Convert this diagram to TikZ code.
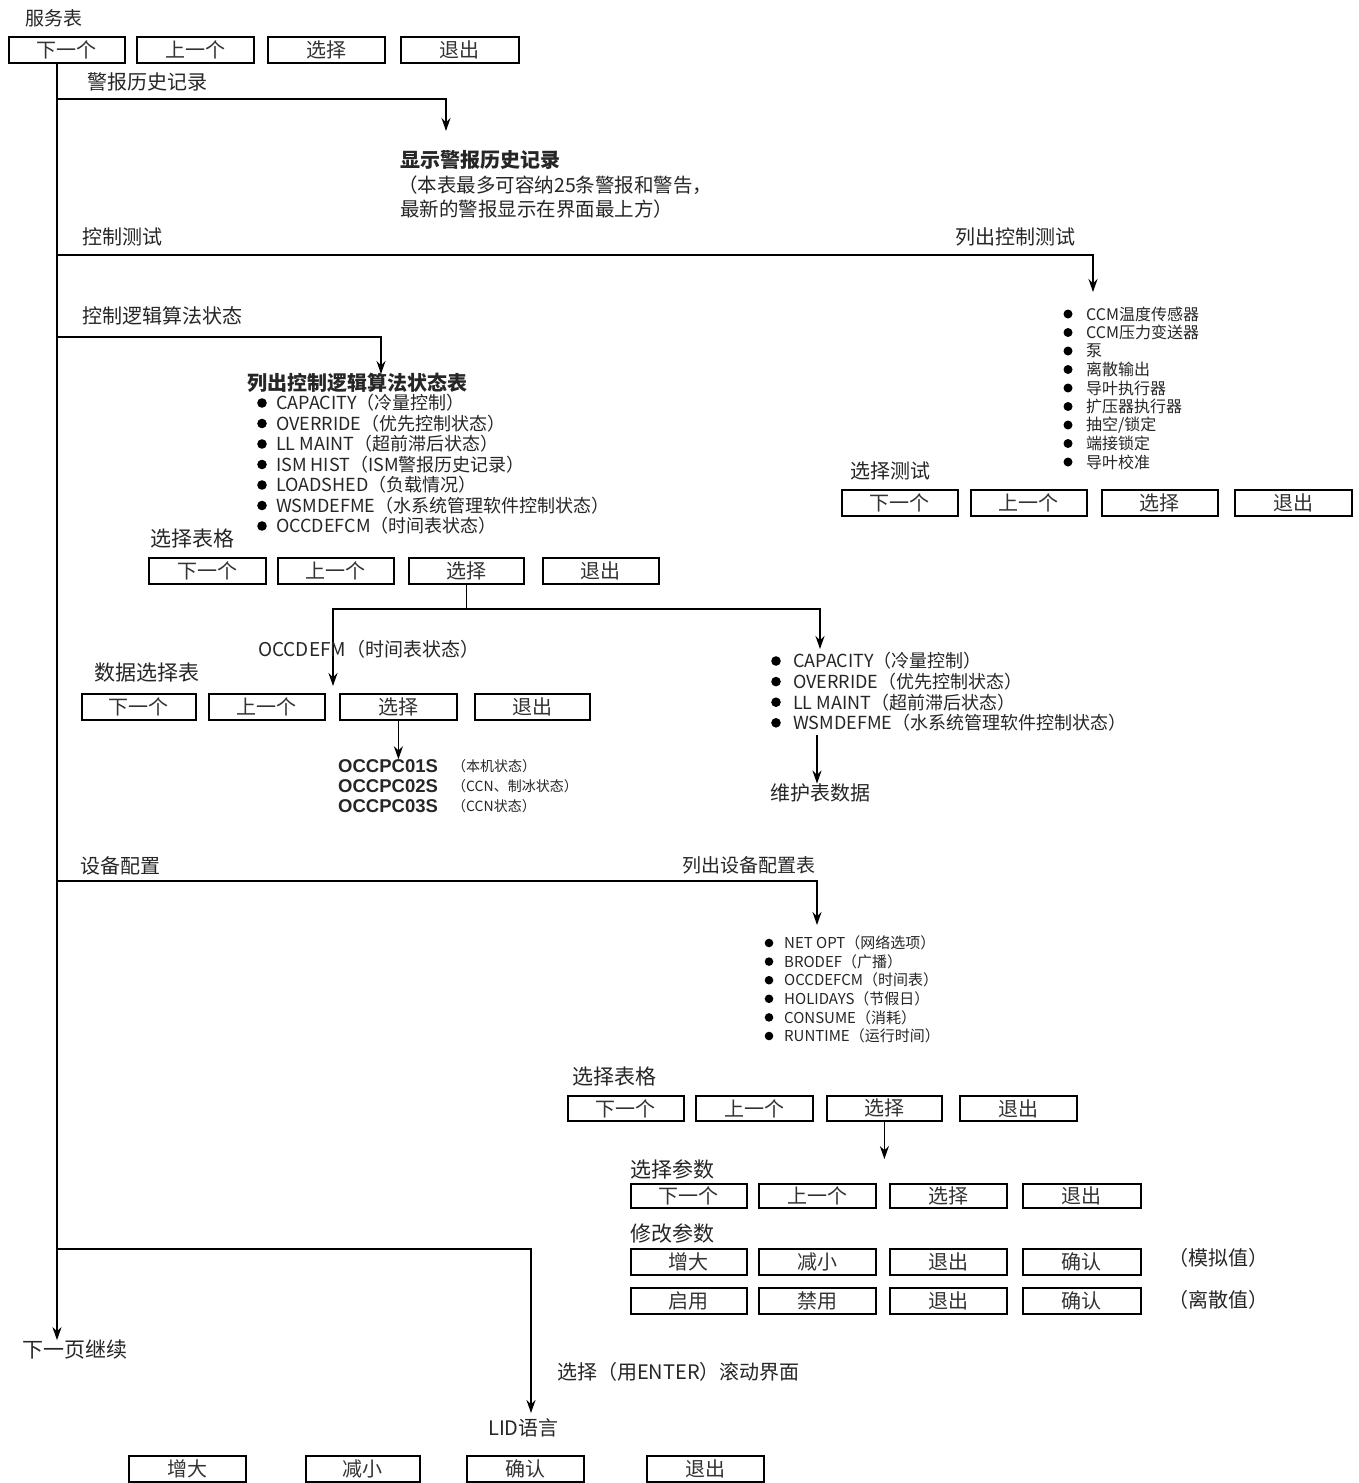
\documentclass[tikz,border=0pt]{standalone}
\usepackage{fontspec}
\setmainfont{Noto Sans CJK SC}
\newfontfamily\arialfont{Liberation Sans}
\usetikzlibrary{arrows.meta}
\newcommand\fs[1]{\fontsize{#1}{#1}\selectfont}
\newcommand\mybtn[6]{\node[btn,minimum width={(#3-#2)*1pt},minimum height=#5pt,anchor=north west] (#1) at (#2,#4) {#6};}
\begin{document}
\begin{tikzpicture}[x=1pt,y=-1pt,
  btn/.style={draw=black, line width=1.8pt, inner sep=0pt, text=black!80, font=\fs{20}},
  lbl/.style={anchor=west, inner sep=0pt, text=black!85, font=\fs{20}},
  ln/.style={line width=1.8pt},
  arr/.style={line width=1.8pt, -{Stealth[length=13pt,width=9pt]}}
]
\fill[white] (0,0) rectangle (1358,1483);
\useasboundingbox (0,0) rectangle (1358,1483);

% ---- top menu
\node[lbl,font=\fs{19}] (svc) at (25,18) {服务表};
\mybtn{a1}{8}{124}{36}{26}{下一个}
\mybtn{a2}{136}{253}{36}{26}{上一个}
\mybtn{a3}{267}{384}{36}{26}{选择}
\mybtn{a4}{400}{518}{36}{26}{退出}

% ---- trunk
\node[lbl,font=\fs{21}] (cont) at (22,1350) {下一页继续};
\coordinate (m0) at (57,62);
\coordinate (m1) at (57,99);
\coordinate (m2) at (57,255);
\coordinate (m3) at (57,337);
\coordinate (m4) at (57,881);
\coordinate (m5) at (57,1249);
\draw[arr] (m0) -- (m0 |- cont.north);

% ---- branch 1: alarm history
\node[lbl] (L1) at (87,82) {警报历史记录};
\coordinate (t1) at (446,131);
\draw[arr] (m1) -| (t1);
\node[lbl,font=\bfseries\fs{20}] (alarmT) at (400,160) {显示警报历史记录};
\node[lbl,font=\fs{19.5}] (alarm1) at (398,185) {（本表最多可容纳25条警报和警告，};
\node[lbl,font=\fs{19.5}] (alarm2) at (400,209) {最新的警报显示在界面最上方）};

% ---- branch 2: control test
\node[lbl] (L2) at (82,237) {控制测试};
\node[lbl] (L2r) at (955,237) {列出控制测试};
\coordinate (t2) at (1093,292);
\draw[arr] (m2) -| (t2);
\foreach \txt [count=\i] in {CCM温度传感器,CCM压力变送器,泵,离散输出,导叶执行器,扩压器执行器,抽空/锁定,端接锁定,导叶校准}{
  \fill (1068,{314+18.5*(\i-1)}) circle (4.5);
  \node[lbl,font=\fs{16}] (ct\i) at (1086,{314+18.5*(\i-1)}) {\txt};
}
\node[lbl] (L2s) at (850,471) {选择测试};
\mybtn{b1}{841}{957}{489}{26}{下一个}
\mybtn{b2}{970}{1086}{489}{26}{上一个}
\mybtn{b3}{1101}{1217}{489}{26}{选择}
\mybtn{b4}{1234}{1351}{489}{26}{退出}

% ---- branch 3: control algorithm status
\node[lbl] (L3) at (82,316) {控制逻辑算法状态};
\coordinate (t3) at (381,374);
\draw[arr] (m3) -| (t3);
\node[lbl,font=\bfseries\fs{20}] (L3T) at (247,383) {列出控制逻辑算法状态表};
\foreach \txt [count=\i] in {CAPACITY（冷量控制）,OVERRIDE（优先控制状态）,LL MAINT（超前滞后状态）,ISM HIST（ISM警报历史记录）,LOADSHED（负载情况）,WSMDEFME（水系统管理软件控制状态）,OCCDEFCM（时间表状态）}{
  \fill (262,{403+20.5*(\i-1)}) circle (4.8);
  \node[lbl,font=\fs{18}] (ca\i) at (276,{403+20.5*(\i-1)}) {\txt};
}
\node[lbl,font=\fs{21}] (L3s) at (150,539) {选择表格};
\mybtn{c1}{148}{265}{557}{26}{下一个}
\mybtn{c2}{277}{393}{557}{26}{上一个}
\mybtn{c3}{408}{523}{557}{26}{选择}
\mybtn{c4}{542}{658}{557}{26}{退出}
\path (c3.south) ++(0,24) coordinate (j3);
\coordinate (t3a) at (333,686);
\coordinate (t3b) at (820,649);
\draw[ln] (c3.south) -- (j3);
\draw[arr] (j3) -| (t3a);
\draw[arr] (j3) -| (t3b);

\node[lbl,font=\fs{19}] (occm) at (258,649) {OCCDEFM（时间表状态）};
\node[lbl,font=\fs{21}] (L4s) at (94,673) {数据选择表};
\mybtn{d1}{81}{195}{693}{26}{下一个}
\mybtn{d2}{208}{324}{693}{26}{上一个}
\mybtn{d3}{339}{456}{693}{26}{选择}
\mybtn{d4}{474}{589}{693}{26}{退出}
\node[lbl,font=\arialfont\bfseries\fs{18.5}] (o1) at (338,766) {OCCPC01S};
\node[lbl,font=\arialfont\bfseries\fs{18.5}] (o2) at (338,786) {OCCPC02S};
\node[lbl,font=\arialfont\bfseries\fs{18.5}] (o3) at (338,806) {OCCPC03S};
\node[lbl,font=\fs{14}] (o1s) at (452,766) {（本机状态）};
\node[lbl,font=\fs{14}] (o2s) at (452,786) {（CCN、制冰状态）};
\node[lbl,font=\fs{14}] (o3s) at (452,806) {（CCN状态）};
\draw[arr] (d3.south) -- (d3.south |- o1.north);

\foreach \txt [count=\i] in {CAPACITY（冷量控制）,OVERRIDE（优先控制状态）,LL MAINT（超前滞后状态）,WSMDEFME（水系统管理软件控制状态）}{
  \fill (776,{661+20.6*(\i-1)}) circle (4.8);
  \node[lbl,font=\fs{18}] (cb\i) at (793,{661+20.6*(\i-1)}) {\txt};
}
\node[lbl] (maint) at (770,793) {维护表数据};
\coordinate (s5) at (817,735);
\draw[arr] (s5) -- (s5 |- maint.north);

% ---- branch 4: equipment configuration
\node[lbl] (L5) at (80,866) {设备配置};
\node[lbl,font=\fs{19}] (L5r) at (682,865) {列出设备配置表};
\coordinate (t6) at (817,925);
\draw[arr] (m4) -| (t6);
\foreach \txt [count=\i] in {NET OPT（网络选项）,BRODEF（广播）,OCCDEFCM（时间表）,HOLIDAYS（节假日）,CONSUME（消耗）,RUNTIME（运行时间）}{
  \fill (769,{943+18.6*(\i-1)}) circle (4.3);
  \node[lbl,font=\fs{15}] (dv\i) at (784,{943+18.6*(\i-1)}) {\txt};
}
\node[lbl,font=\fs{21}] (L6s) at (572,1077) {选择表格};
\mybtn{e1}{567}{683}{1095}{25}{下一个}
\mybtn{e2}{695}{812}{1095}{25}{上一个}
\mybtn{e3}{826}{941}{1095}{25}{选择}
\mybtn{e4}{959}{1076}{1095}{25}{退出}
\node[lbl,font=\fs{21}] (L7) at (630,1169) {选择参数};
\draw[arr] (e3.south) -- (e3.south |- L7.north);
\mybtn{f1}{630}{746}{1183}{24}{下一个}
\mybtn{f2}{758}{875}{1183}{24}{上一个}
\mybtn{f3}{889}{1006}{1183}{24}{选择}
\mybtn{f4}{1022}{1140}{1183}{24}{退出}
\node[lbl,font=\fs{21}] (L8) at (630,1233) {修改参数};
\mybtn{g1}{630}{746}{1248}{26}{增大}
\mybtn{g2}{758}{875}{1248}{26}{减小}
\mybtn{g3}{889}{1006}{1248}{26}{退出}
\mybtn{g4}{1022}{1140}{1248}{26}{确认}
\node[lbl] (g5) at (1168,1258) {（模拟值）};
\mybtn{h1}{630}{746}{1287}{26}{启用}
\mybtn{h2}{758}{875}{1287}{26}{禁用}
\mybtn{h3}{889}{1006}{1287}{26}{退出}
\mybtn{h4}{1022}{1140}{1287}{26}{确认}
\node[lbl] (h5) at (1168,1300) {（离散值）};

% ---- branch 5: LID language
\coordinate (t8) at (531,1413);
\draw[arr] (m5) -| (t8);
\node[lbl] (L9) at (557,1372) {选择（用ENTER）滚动界面};
\node[lbl] (lid) at (488,1428) {LID语言};
\mybtn{k1}{128}{245}{1455}{26}{增大}
\mybtn{k2}{305}{419}{1455}{26}{减小}
\mybtn{k3}{466}{583}{1455}{26}{确认}
\mybtn{k4}{646}{763}{1455}{26}{退出}
\end{tikzpicture}
\end{document}
